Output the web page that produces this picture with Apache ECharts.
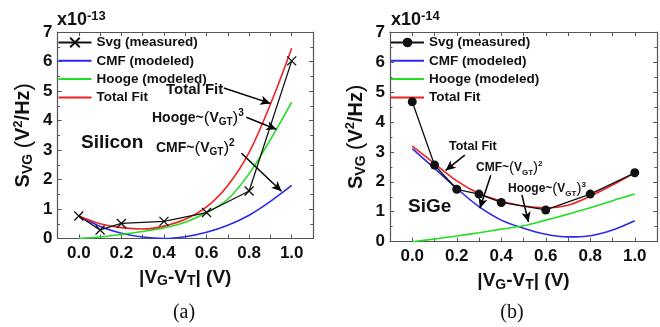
<!DOCTYPE html>
<html><head><meta charset="utf-8">
<script src="https://cdn.jsdelivr.net/npm/echarts@6.0.0/dist/echarts.min.js"></script>
<style>html,body{margin:0;padding:0;background:#fff}#c{width:660px;height:327px}</style>
</head><body><div id="c"></div>
<script>
// ---------- data (units: 1e-13 for Silicon, 1e-14 for SiGe) ----------
const xFit = [0, 0.1, 0.2, 0.3, 0.4, 0.5, 0.6, 0.7, 0.8, 0.9, 1.0];

const siMeasX = [0, 0.1, 0.2, 0.4, 0.6, 0.8, 1.0];
const siMeasY = [0.76, 0.29, 0.51, 0.58, 0.88, 1.61, 6.02];
const siCMF   = [0.76, 0.41, 0.18, 0.05, 0.0, 0.06, 0.21, 0.45, 0.79, 1.26, 1.80];
const siHooge = [0.0, 0.05, 0.14, 0.24, 0.36, 0.55, 0.88, 1.33, 2.2, 3.35, 4.62];
const siTotal = [0.76, 0.5, 0.37, 0.32, 0.42, 0.65, 1.07, 1.8, 2.92, 4.55, 6.45];

const sgMeasX = [0, 0.1, 0.2, 0.3, 0.4, 0.6, 0.8, 1.0];
const sgMeasY = [4.67, 2.56, 1.75, 1.59, 1.31, 1.06, 1.59, 2.3];
const sgCMF   = [3.11, 2.45, 1.78, 1.17, 0.72, 0.45, 0.25, 0.16, 0.2, 0.39, 0.70];
const sgHooge = [0.0, 0.09, 0.19, 0.3, 0.42, 0.53, 0.72, 0.92, 1.13, 1.37, 1.59];
const sgTotal = [3.19, 2.61, 2.03, 1.61, 1.36, 1.19, 1.13, 1.22, 1.52, 1.89, 2.3];

const xTicks = ['0.0', '0.2', '0.4', '0.6', '0.8', '1.0'];
const yTicks = ['0', '1', '2', '3', '4', '5', '6', '7'];
const legendNames = ['Svg (measured)', 'CMF (modeled)', 'Hooge (modeled)', 'Total Fit'];
const exponents = ['-13', '-14'];
const panelLabels = ['Silicon', 'SiGe'];
const captions = ['(a)', '(b)'];

// annotation arrows in data units: [fromX, fromY, toX, toY]
const siArrows = [[0.681, 5.10, 0.90, 4.58], [0.787, 4.11, 0.928, 3.70], [0.764, 2.89, 0.952, 1.60]];
const sgArrows = [[0.236, 2.89, 0.15, 2.38], [0.353, 2.22, 0.304, 1.12], [0.493, 1.56, 0.522, 0.66]];

// ---------- styles ----------
const F = '"Liberation Sans", Arial, sans-serif';
const FS = '"Liberation Serif", "Times New Roman", serif';
const INK = '#111';
const AX = '#555';
const C_BLUE = '#2a2aee', C_GREEN = '#22dd22', C_RED = '#ee2222';

const zip = (xs, ys) => xs.map((x, i) => [x, ys[i]]);

function xAx(gi, pos) {
  return {
    type: 'value', gridIndex: gi, position: pos, min: -0.1, max: 1.1, interval: 0.1,
    axisLine: { show: true, onZero: false, lineStyle: { color: AX, width: 1.2 } },
    axisTick: { show: true, inside: true, length: 4, lineStyle: { color: AX } },
    splitLine: { show: false },
    axisLabel: {
      show: pos === 'bottom', margin: 6, fontSize: 17, fontWeight: 'bold', fontFamily: F, color: INK,
      formatter: v => { const r = Math.round(v * 10); return (r >= 0 && r <= 10 && r % 2 === 0) ? xTicks[r / 2] : ''; }
    },
    name: pos === 'bottom' ? '{b|\u007CV}{s|G}{b|-V}{s|T}{b|\u007C (V)}' : '',
    nameLocation: 'middle', nameGap: 28,
    nameTextStyle: {
      rich: {
        b: { fontSize: 19, fontWeight: 'bold', fontFamily: F, color: INK, lineHeight: 22 },
        s: { fontSize: 14, fontWeight: 'bold', fontFamily: F, color: INK, lineHeight: 12, verticalAlign: 'bottom' }
      }
    }
  };
}
function yAx(gi, pos) {
  return {
    type: 'value', gridIndex: gi, position: pos, min: 0, max: 7, interval: 1,
    axisLine: { show: true, onZero: false, lineStyle: { color: AX, width: 1.2 } },
    axisTick: { show: true, inside: true, length: 4, lineStyle: { color: AX } },
    minorTick: { show: true, splitNumber: 2, length: 2.5, lineStyle: { color: AX } },
    splitLine: { show: false },
    axisLabel: { show: pos === 'left', margin: 5, fontSize: 17, fontWeight: 'bold', fontFamily: F, color: INK,
      formatter: v => yTicks[Math.round(v)] },
    name: pos === 'left' ? '{b|S}{s|VG}{b| }{p|(}{b|V}{u|2}{b|/Hz}{p|)}' : '',
    nameLocation: 'middle', nameGap: 22, nameRotate: 90,
    nameTextStyle: {
      rich: {
        b: { fontSize: 20, fontWeight: 'bold', fontFamily: F, color: INK, lineHeight: 24 },
        p: { fontSize: 22, fontWeight: 'normal', fontFamily: F, color: INK, lineHeight: 24 },
        s: { fontSize: 14, fontWeight: 'bold', fontFamily: F, color: INK, lineHeight: 13, verticalAlign: 'bottom' },
        u: { fontSize: 13, fontWeight: 'bold', fontFamily: F, color: INK, lineHeight: 13, verticalAlign: 'top' }
      }
    }
  };
}

function arrows(list) {
  return {
    silent: true, symbol: ['none', 'arrow'], symbolSize: [7, 10],
    lineStyle: { color: '#000', width: 1.5, type: 'solid' },
    label: { show: false }, emphasis: { disabled: true },
    data: list.map(a => [{ coord: [a[0], a[1]] }, { coord: [a[2], a[3]] }])
  };
}

const xMark = 'path://M0,0L10,10M10,0L0,10';
function curve(name, gi, ys, color) {
  return { type: 'line', name, xAxisIndex: gi * 2, yAxisIndex: gi * 2, data: zip(xFit, ys),
    smooth: 0.35, showSymbol: false, symbol: 'circle', symbolSize: 2, lineStyle: { color, width: 1.6 }, itemStyle: { color }, z: 3 };
}

const series = [
  { type: 'line', name: legendNames[0], xAxisIndex: 0, yAxisIndex: 0, data: zip(siMeasX, siMeasY),
    symbol: xMark, symbolSize: 9, lineStyle: { color: INK, width: 1.3 },
    itemStyle: { color: INK, borderColor: INK, borderWidth: 1.3 }, z: 5, markLine: arrows(siArrows) },
  curve(legendNames[1], 0, siCMF, C_BLUE),
  curve(legendNames[2], 0, siHooge, C_GREEN),
  curve(legendNames[3], 0, siTotal, C_RED),
  { type: 'line', name: legendNames[0] + ' ', xAxisIndex: 2, yAxisIndex: 2, data: zip(sgMeasX, sgMeasY),
    symbol: 'circle', symbolSize: 9, lineStyle: { color: INK, width: 1.3 },
    itemStyle: { color: INK }, z: 5, markLine: arrows(sgArrows) },
  curve(legendNames[1] + ' ', 1, sgCMF, C_BLUE),
  curve(legendNames[2] + ' ', 1, sgHooge, C_GREEN),
  curve(legendNames[3] + ' ', 1, sgTotal, C_RED)
];

function legend(left, suffix) {
  return { left, top: 35.5, orient: 'vertical', padding: 0, itemWidth: 33, itemHeight: 12, itemGap: 4.3,
    selectedMode: false,
    data: legendNames.map((n, i) => i === 0 ? { name: n + suffix } : { name: n + suffix, itemStyle: { opacity: 0 } }),
    formatter: n => n.trim(),
    textStyle: { fontSize: 13.5, fontWeight: 'bold', fontFamily: F, color: INK, lineHeight: 12 } };
}

function mkRich(sz) {
  return {
    b: { fontSize: sz, fontWeight: 'bold', fontFamily: F, fill: INK, lineHeight: sz + 5 },
    p: { fontSize: sz + 3, fontWeight: 'normal', fontFamily: F, fill: INK, lineHeight: sz + 5 },
    s: { fontSize: Math.round(sz * 0.68), fontWeight: 'bold', fontFamily: F, fill: INK, lineHeight: sz * 0.68, verticalAlign: 'bottom' },
    u: { fontSize: Math.round(sz * 0.68), fontWeight: 'bold', fontFamily: F, fill: INK, lineHeight: sz * 0.68, verticalAlign: 'top' }
  };
}
const richL = mkRich(14), richR = mkRich(12);
function txt(x, y, text, extra) {
  return { type: 'text', x, y, silent: true, z: 10,
    style: Object.assign({ text, rich: richL, align: 'left', verticalAlign: 'middle', fill: INK }, extra || {}) };
}
const hooge = '{b|Hooge~}{p|(}{b|V}{s|GT}{p|)}{u|3}';
const cmf = '{b|CMF~}{p|(}{b|V}{s|GT}{p|)}{u|2}';
const big = { font: 'bold 19px ' + F };
const expRich = {
  b: { fontSize: 18, fontWeight: 'bold', fontFamily: F, fill: INK, lineHeight: 20 },
  u: { fontSize: 13, fontWeight: 'bold', fontFamily: F, fill: INK, lineHeight: 12, verticalAlign: 'top' }
};

const graphic = [
  txt(57, 20, '{b|x10}{u|' + exponents[0] + '}', { rich: expRich }),
  txt(391, 20, '{b|x10}{u|' + exponents[1] + '}', { rich: expRich }),
  txt(81, 143, panelLabels[0], big),
  txt(408, 207, panelLabels[1], big),
  txt(166, 90, '{b|Total Fit}', { rich: mkRich(15) }),
  txt(152, 118, hooge),
  txt(156, 148, cmf),
  txt(449, 147, '{b|Total Fit}', { rich: mkRich(12.5) }),
  txt(476, 168, cmf, { rich: richR }),
  txt(508, 189, hooge, { rich: richR }),
  txt(184, 313, captions[0], { font: '20px ' + FS, align: 'center' }),
  txt(512, 313, captions[1], { font: '20px ' + FS, align: 'center' })
];

const chart = echarts.init(document.getElementById('c'), null, { renderer: 'canvas' });
chart.setOption({
  animation: false,
  backgroundColor: '#fff',
  grid: [
    { left: 57.5, top: 32, width: 255.5, height: 206.5 },
    { left: 390, top: 32, width: 272, height: 209.7 }
  ],
  xAxis: [xAx(0, 'bottom'), xAx(0, 'top'), xAx(1, 'bottom'), xAx(1, 'top')],
  yAxis: [yAx(0, 'left'), yAx(0, 'right'), yAx(1, 'left'), yAx(1, 'right')],
  legend: [legend(57.5, ''), legend(390, ' ')],
  series,
  graphic
});
</script></body></html>
